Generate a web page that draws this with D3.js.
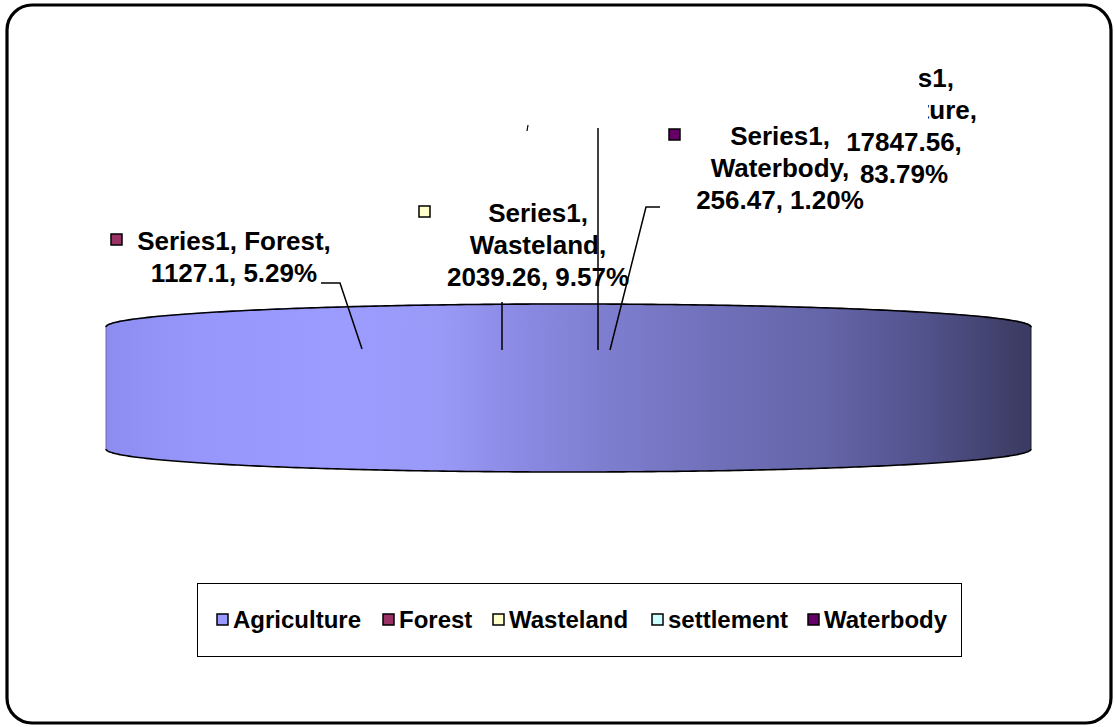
<!DOCTYPE html>
<html>
<head>
<meta charset="utf-8">
<script src="https://cdn.jsdelivr.net/npm/d3@7"></script>
<style>
  html, body { margin: 0; padding: 0; background: #fff; }
  svg { display: block; }
  text { font-family: "Liberation Sans", Arial, sans-serif; font-weight: bold; }
</style>
</head>
<body>
<svg id="chart" width="1115" height="727"></svg>
<script>
// ---- data ----
const seriesName = "Series1";
const categories = ["Agriculture", "Forest", "Wasteland", "settlement", "Waterbody"];
const values = [17847.56, 1127.1, 2039.26, 30.1, 256.47];
const colors = ["#9999ff", "#993366", "#ffffcc", "#ccffff", "#660066"];

// ---- layout ----
const svg = d3.select("#chart");
const total = d3.sum(values);
const pct = d3.format(".2%");

const cx = 568.5, rx = 462.5, ry = 23, topY = 327, depth = 122;

const defs = svg.append("defs");
const stops = [[0, "#8d8df1"], [0.1, "#9696fb"], [0.26, "#9c9cff"], [0.36, "#9999f8"],
 [0.45, "#8a8ae3"], [0.5, "#8383d8"], [0.64, "#7272bd"], [0.78, "#6464a8"],
 [0.89, "#51518b"], [0.97, "#40406b"], [1, "#3a3a61"]];
function makeGrad(id, x1, x2) {
  const g = defs.append("linearGradient").attr("id", id)
    .attr("gradientUnits", "userSpaceOnUse")
    .attr("x1", x1).attr("x2", x2).attr("y1", 0).attr("y2", 0);
  stops.forEach(([o, c]) => g.append("stop").attr("offset", o).attr("stop-color", c));
}
makeGrad("pieGrad", cx - rx, cx + rx);
makeGrad("topGrad", -rx, rx);

// outer frame
svg.append("rect").attr("x", 7).attr("y", 5).attr("width", 1104).attr("height", 718)
  .attr("rx", 25).attr("ry", 25).attr("fill", "#fff").attr("stroke", "#000").attr("stroke-width", 3.2);

// ---- pie (3D, very low elevation) ----
const pie = d3.pie().sort(null).startAngle(0).endAngle(2 * Math.PI);
const arcs = pie(values);
const pt = (a, y) => [cx + rx * Math.sin(a), y - ry * Math.cos(a)];

const gPie = svg.append("g");
// side faces (front half only: angles PI/2..3PI/2), extended up to the ellipse axis
arcs.forEach((d) => {
  const s = Math.max(d.startAngle, Math.PI / 2), e = Math.min(d.endAngle, 3 * Math.PI / 2);
  if (e <= s) return;
  const n = 160, p = d3.path();
  const [x0] = pt(s, topY), [x1] = pt(e, topY);
  p.moveTo(x1, topY);
  p.lineTo(x0, topY);
  for (let k = 0; k <= n; k++) {
    const a = s + (e - s) * k / n, [x, y] = pt(a, topY + depth);
    p.lineTo(x, y);
  }
  p.closePath();
  gPie.append("path").attr("d", p.toString()).attr("fill", "url(#pieGrad)").attr("stroke", "none");
});
// top face slices
const arcGen = d3.arc().innerRadius(0).outerRadius(rx);
const gTop = gPie.append("g").attr("transform", `translate(${cx},${topY}) scale(1,${ry / rx})`);
gTop.selectAll("path").data(arcs).join("path")
  .attr("d", arcGen)
  .attr("fill", "url(#topGrad)")
  .attr("stroke", "url(#topGrad)")
  .attr("stroke-width", 1.2)
  .attr("vector-effect", "non-scaling-stroke");
// outline
const outline = (a0, a1, y) => {
  const p = d3.path(), n = 240;
  for (let k = 0; k <= n; k++) {
    const a = a0 + (a1 - a0) * k / n, [x, yy] = pt(a, y);
    k === 0 ? p.moveTo(x, yy) : p.lineTo(x, yy);
  }
  return p.toString();
};
gPie.append("path").attr("d", outline(-Math.PI / 2, Math.PI / 2, topY))
  .attr("fill", "none").attr("stroke", "#000").attr("stroke-width", 1.6);
gPie.append("path").attr("d", outline(Math.PI / 2, 3 * Math.PI / 2, topY + depth))
  .attr("fill", "none").attr("stroke", "#000").attr("stroke-width", 1.6);
gPie.append("line").attr("x1", cx - rx).attr("x2", cx - rx).attr("y1", topY).attr("y2", topY + depth)
  .attr("stroke", "#6a6aa8").attr("stroke-width", 1);
gPie.append("line").attr("x1", cx + rx).attr("x2", cx + rx).attr("y1", topY).attr("y2", topY + depth)
  .attr("stroke", "#1a1a30").attr("stroke-width", 1);

// ---- data labels ----
const fs = 26, lh = 32;
const labelText = i => {
  const v = String(values[i]), p = pct(values[i] / total);
  return {
    Agriculture: [`${seriesName},`, `${categories[i]},`, `${v},`, p],
    Forest: [`${seriesName}, ${categories[i]},`, `${v}, ${p}`],
    Wasteland: [`${seriesName},`, `${categories[i]},`, `${v}, ${p}`],
    Waterbody: [`${seriesName},`, `${categories[i]},`, `${v}, ${p}`]
  }[categories[i]];
};
const labelPos = {
  Agriculture: { x: 904, y: 87, mk: null },
  Forest: { x: 234, y: 250, mk: [111, 234] },
  Wasteland: { x: 538, y: 222, mk: [419, 206] },
  Waterbody: { x: 780, y: 145, mk: [669, 129] }
};
const leaders = {
  Forest: [[321, 283], [340, 283], [362, 349]],
  Wasteland: [[502, 302], [502, 350]],
  settlement: [[598, 128], [598, 350]],
  Waterbody: [[660, 207], [646, 207], [610, 350]]
};

const gLab = svg.append("g");
function drawLabel(name) {
  const i = categories.indexOf(name), lp = labelPos[name];
  const t = gLab.append("text").attr("text-anchor", "middle").attr("font-size", fs).attr("fill", "#000");
  labelText(i).forEach((s, k) => t.append("tspan").attr("x", lp.x).attr("y", lp.y + k * lh).text(s));
  if (lp.mk) gLab.append("rect").attr("x", lp.mk[0]).attr("y", lp.mk[1]).attr("width", 11).attr("height", 11)
    .attr("fill", colors[i]).attr("stroke", "#000").attr("stroke-width", 1.5);
}
drawLabel("Agriculture");
// hidden settlement label area (covers part of the agriculture label)
gLab.append("rect").attr("x", 515).attr("y", 50).attr("width", 404).attr("height", 45).attr("fill", "#fff");
gLab.append("rect").attr("x", 515).attr("y", 94).attr("width", 413).attr("height", 32).attr("fill", "#fff");
gLab.append("path").attr("d", "M528,125 L527,131").attr("stroke", "#000").attr("stroke-width", 1.2);
["Waterbody", "Wasteland", "Forest"].forEach(drawLabel);

const line = d3.line();
Object.entries(leaders).forEach(([k, pts]) =>
  gLab.append("path").attr("d", line(pts)).attr("fill", "none").attr("stroke", "#000").attr("stroke-width", 1.5));

// ---- legend ----
const lg = svg.append("g");
lg.append("rect").attr("x", 197.5).attr("y", 583.5).attr("width", 764).attr("height", 73)
  .attr("fill", "#fff").attr("stroke", "#000").attr("stroke-width", 1);
const legX = [217, 383, 493, 652, 808];
categories.forEach((c, i) => {
  lg.append("rect").attr("x", legX[i]).attr("y", 614).attr("width", 11).attr("height", 11)
    .attr("fill", colors[i]).attr("stroke", "#000").attr("stroke-width", 1.5);
  lg.append("text").attr("x", legX[i] + 16).attr("y", 628).attr("font-size", 24).text(c);
});
</script>
</body>
</html>
